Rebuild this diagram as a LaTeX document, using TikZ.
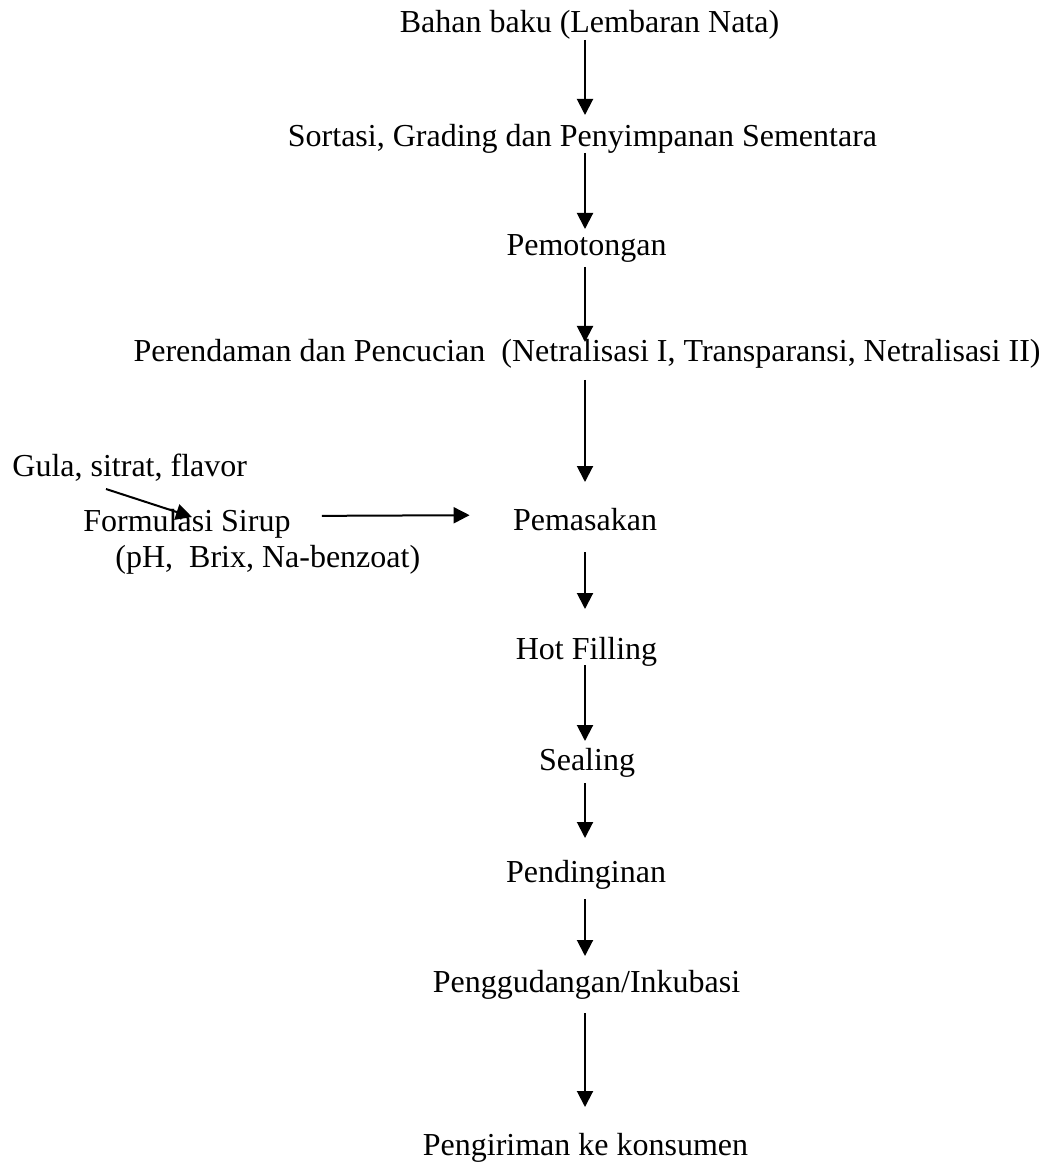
\documentclass[tikz,border=0pt]{standalone}
\usepackage{fontspec}
\setmainfont{Liberation Serif}
\usetikzlibrary{arrows.meta,positioning}
\tikzset{
  flow arrow/.style={-{Triangle[length=8pt,width=8pt]},draw=black,line width=1pt},
  stage node/.style={inner sep=0pt,anchor=base,font=\fontsize{16pt}{19pt}\selectfont},
  input node/.style={stage node,anchor=base west}
}

\begin{document}
\begin{tikzpicture}[x=0.5pt,y=-0.5pt]
    \useasboundingbox (0,0) rectangle (1046,1165);
    \coordinate (axis) at (585,0);
    % main column
    \node[stage node] (bahan) at (589.5,33) {Bahan baku (Lembaran Nata)};
    \node[stage node] (sortasi) at (582.5,147) {Sortasi, Grading dan Penyimpanan Sementara};
    \node[stage node] (potong) at (586.5,256) {Pemotongan};
    \node[stage node] (rendam) at (587,362)
      {Perendaman dan Pencucian\ \ (Netralisasi I, Transparansi, Netralisasi II)};
    \node[stage node] (masak) at (585,530) {Pemasakan};
    \node[stage node] (hotfill) at (586.5,659) {Hot Filling};
    \node[stage node] (seal) at (587,770) {Sealing};
    \node[stage node] (dingin) at (586,882) {Pendinginan};
    \node[stage node] (gudang) at (586.5,992) {Penggudangan/Inkubasi};
    \node[stage node] (kirim) at (585.5,1155) {Pengiriman ke konsumen};
    % syrup branch
    \node[input node] (gula) at (12,476) {Gula, sitrat, flavor};
    \node[input node] (sirup) at (83,531) {Formulasi Sirup};
    \node[input node] (sirupsub) at (115,567) {(pH,\ \ Brix, Na-benzoat)};

    \draw[flow arrow,shorten <=3.5pt,shorten >=16pt] (bahan.base -| axis) -- (sortasi.base -| axis);
    \draw[flow arrow,shorten <=3pt,shorten >=13.5pt] (sortasi.base -| axis) -- (potong.base -| axis);
    \draw[flow arrow,shorten <=5.5pt,shorten >=10pt] (potong.base -| axis) -- (rendam.base -| axis);
    \draw[flow arrow,shorten <=9pt,shorten >=24pt] (rendam.base -| axis) -- (masak.base -| axis);
    \draw[flow arrow,shorten <=11pt,shorten >=25pt] (masak.base -| axis) -- (hotfill.base -| axis);
    \draw[flow arrow,shorten <=3pt,shorten >=14.5pt] (hotfill.base -| axis) -- (seal.base -| axis);
    \draw[flow arrow,shorten <=6.5pt,shorten >=22pt] (seal.base -| axis) -- (dingin.base -| axis);
    \draw[flow arrow,shorten <=8.5pt,shorten >=18pt] (dingin.base -| axis) -- (gudang.base -| axis);
    \draw[flow arrow,shorten <=10.5pt,shorten >=24pt] (gudang.base -| axis) -- (kirim.base -| axis);

    \draw[flow arrow] ([shift={(47pt,-6.5pt)}]gula.base west) -- ([shift={(54.5pt,7pt)}]sirup.base west);
    \draw[flow arrow,shorten <=15.5pt,shorten >=21.5pt]
      ([yshift=7.5pt]sirup.base east) -- ([yshift=7.5pt]masak.base west);
\end{tikzpicture}
\end{document}
